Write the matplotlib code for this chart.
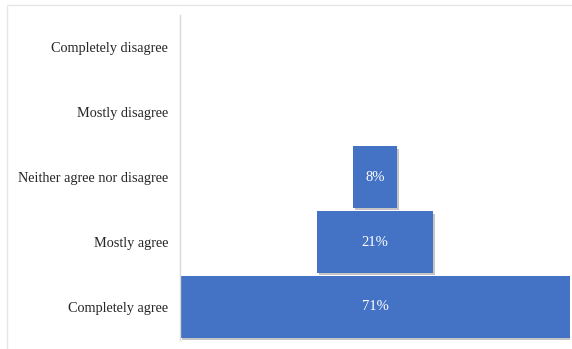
import matplotlib
matplotlib.use("Agg")
import matplotlib.pyplot as plt
import matplotlib.patheffects as pe
from matplotlib.patches import Rectangle

categories = [
    "Completely agree",
    "Mostly agree",
    "Neither agree nor disagree",
    "Mostly disagree",
    "Completely disagree",
]
values = [71, 21, 8, 0, 0]  # percent

plt.rcParams["font.family"] = ["Liberation Serif", "DejaVu Serif"]

fig = plt.figure(figsize=(5.72, 3.49), dpi=100)
ax = fig.add_axes([180 / 572, 1 - 339.5 / 349, 390 / 572, 325 / 349])

# outer frame like the exported chart area
fig.patches.append(
    Rectangle((7 / 572, -0.1), 1.2, 1 - 5 / 349 + 0.1,
              transform=fig.transFigure, fill=False,
              edgecolor="#e6e6e6", linewidth=1.0)
)

shadow = [pe.SimplePatchShadow(offset=(1.5, -1.5), shadow_rgbFace="#8c8c8c", alpha=0.5),
          pe.Normal()]

y = range(len(categories))
lefts = [-v / 2 for v in values]
bars = ax.barh(y, values, left=lefts, height=0.94, color="#4472C4", linewidth=0)
for b, v in zip(bars, values):
    if v > 0:
        b.set_path_effects(shadow)
        ax.text(0, b.get_y() + b.get_height() / 2, f"{v}%", ha="center", va="center",
                color="white", fontsize=10.5)
    else:
        b.set_visible(False)

ax.set_xlim(-max(values) / 2, max(values) / 2)
ax.set_ylim(-0.5, len(categories) - 0.5)
ax.set_yticks(list(y))
ax.set_yticklabels(categories, fontsize=10.3, color="#262626")
ax.tick_params(axis="y", length=0, pad=8.5)
ax.set_xticks([])
for s in ("top", "right", "bottom"):
    ax.spines[s].set_visible(False)
ax.spines["left"].set_color("#d9d9d9")
ax.spines["left"].set_linewidth(1.0)

fig.savefig("out.png", dpi=100)
